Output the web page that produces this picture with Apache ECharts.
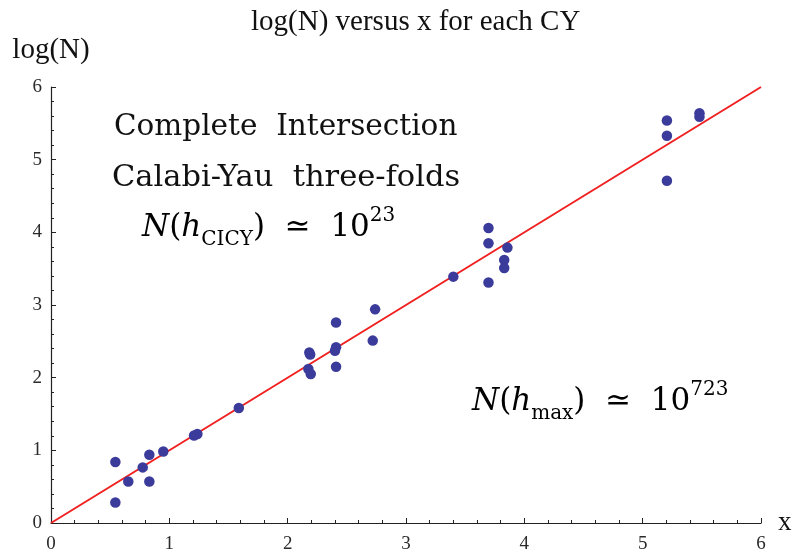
<!DOCTYPE html>
<html>
<head>
<meta charset="utf-8">
<script src="https://cdn.jsdelivr.net/npm/echarts@6/dist/echarts.min.js"></script>
<style>html,body{margin:0;padding:0;background:#fff}#c{width:793px;height:555px}</style>
</head>
<body>
<div id="c"></div>
<script>
// Data (x, log N)
const xs = [0.544, 0.544, 0.653, 0.775, 0.831, 0.831, 0.949, 1.209, 1.237, 1.587,
            2.183, 2.19, 2.175, 2.195, 2.409, 2.409, 2.40, 2.409, 2.739, 2.719,
            3.40, 3.697, 3.697, 3.697, 3.857, 3.83, 3.83,
            5.205, 5.205, 5.205, 5.48, 5.48];
const ys = [0.839, 0.283, 0.572, 0.765, 0.939, 0.572, 0.985, 1.205, 1.224, 1.582,
            2.347, 2.32, 2.12, 2.05, 2.76, 2.42, 2.37, 2.15, 2.94, 2.51,
            3.39, 4.06, 3.85, 3.31, 3.79, 3.62, 3.51,
            5.54, 5.33, 4.71, 5.64, 5.59];
const fitX = [0, 6];
const fitY = [0, 6];
const xTicks = [0, 1, 2, 3, 4, 5, 6];
const yTicks = [0, 1, 2, 3, 4, 5, 6];

const chart = echarts.init(document.getElementById('c'), null, {renderer: 'canvas'});
const serif = '"Liberation Serif", "Times New Roman", serif';
const cm = '"DejaVu Serif", serif';
const axisCommon = {
  type: 'value', min: 0, max: 6, interval: 1,
  axisLine: {show: true, onZero: false, lineStyle: {color: '#222', width: 1.2}},
  axisTick: {show: true, inside: true, length: 5, lineStyle: {color: '#222', width: 1}},
  minorTick: {show: true, splitNumber: 5, length: 3, lineStyle: {color: '#222', width: 1}},
  splitLine: {show: false},
  axisLabel: {fontFamily: serif, fontSize: 19, color: '#2a2a2a', margin: 9,
              formatter: v => String(v)}
};
const richN = {
  i: {fontFamily: cm, fontStyle: 'italic', fontSize: 31, lineHeight: 44, color: '#111'},
  n: {fontFamily: cm, fontSize: 31, lineHeight: 44, color: '#111'},
  sub: {fontFamily: cm, fontSize: 20, lineHeight: 20, verticalAlign: 'bottom', color: '#111'},
  sup: {fontFamily: cm, fontSize: 20, lineHeight: 20, verticalAlign: 'top', color: '#111'}
};
chart.setOption({
  animation: false,
  backgroundColor: '#fff',
  title: {
    text: 'log(N) versus x for each CY', left: 246, top: 3,
    textStyle: {fontFamily: serif, fontSize: 29, fontWeight: 'normal', color: '#111'}
  },
  grid: {left: 51, right: 32, top: 87, bottom: 32, containLabel: false, outerBoundsMode: 'none'},
  xAxis: Object.assign({}, axisCommon, {
    name: 'x', nameLocation: 'end', nameGap: 17,
    nameTextStyle: {fontFamily: serif, fontSize: 27, color: '#111', verticalAlign: 'middle'},
    axisLabel: Object.assign({}, axisCommon.axisLabel, {margin: 12})
  }),
  yAxis: Object.assign({}, axisCommon, {
    name: 'log(N)', nameLocation: 'end', nameGap: 22,
    nameTextStyle: {fontFamily: serif, fontSize: 29, color: '#111', align: 'center'}
  }),
  series: [
    {
      type: 'line', data: fitX.map((x, i) => [x, fitY[i]]),
      showSymbol: false, lineStyle: {color: '#f02020', width: 2}, z: 2
    },
    {
      type: 'scatter', data: xs.map((x, i) => [x, ys[i]]),
      symbol: 'circle', symbolSize: 10.5,
      itemStyle: {color: '#3b3b9b', opacity: 1}, z: 3
    }
  ],
  graphic: [
    {type: 'text', left: 114, top: 112, style: {text: 'Complete  Intersection', font: '29.5px "DejaVu Serif", serif', fill: '#111'}},
    {type: 'text', left: 112, top: 163, style: {text: 'Calabi-Yau  three-folds', font: '30.5px "DejaVu Serif", serif', fill: '#111'}},
    {type: 'text', left: 142, top: 206, style: {text: '{i|N}{n|(}{i|h}{sub|CICY}{n|)  ≃  10}{sup|23}', rich: richN}},
    {type: 'text', left: 472, top: 380, style: {text: '{i|N}{n|(}{i|h}{sub|max}{n|)  ≃  10}{sup|723}', rich: richN}}
  ]
});
</script>
</body>
</html>
